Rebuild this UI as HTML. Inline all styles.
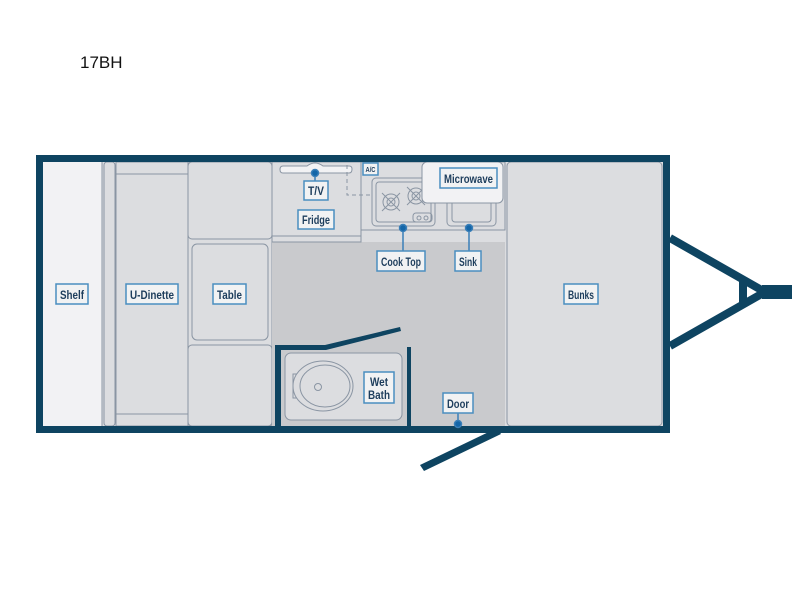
<!DOCTYPE html>
<html><head><style>
body{margin:0;width:800px;height:600px;background:#fff;overflow:hidden}
svg{display:block}
.l{font-family:"Liberation Sans",sans-serif;font-weight:bold;fill:#1d3d5c;font-size:12px;text-anchor:middle}
.b{fill:#f1f2f3;stroke:#4a8ec0;stroke-width:1.5}
.g{stroke:#8a95a3;stroke-width:1;fill:#dcdde0}
</style></head><body>
<svg width="800" height="600" viewBox="0 0 800 600">
<text x="80" y="68" font-family="Liberation Sans,sans-serif" font-size="17" fill="#111">17BH</text>
<rect x="40" y="158" width="627" height="272" fill="#dcdde0"/>
<rect x="43" y="162" width="59" height="264" fill="#f2f2f4"/>
<line x1="102" y1="162" x2="102" y2="426" stroke="#8a95a3"/>
<rect x="104" y="162" width="11" height="264" rx="3" class="g"/>
<rect x="116" y="162" width="156" height="264" class="g" fill="none"/>
<line x1="116" y1="174" x2="272" y2="174" stroke="#8a95a3"/>
<line x1="116" y1="414" x2="272" y2="414" stroke="#8a95a3"/>
<line x1="188" y1="162" x2="188" y2="426" stroke="#8a95a3"/>
<rect x="188" y="162" width="84" height="77" rx="4" class="g"/>
<rect x="192" y="244" width="76" height="96" rx="5" class="g"/>
<rect x="188" y="345" width="84" height="81" rx="4" class="g"/>
<rect x="272" y="242" width="233" height="184" fill="#c9cacd"/>
<rect x="272" y="162" width="89" height="80" fill="#dcdde0" stroke="#8a95a3"/>
<line x1="272" y1="236" x2="361" y2="236" stroke="#8a95a3"/>
<rect x="361" y="162" width="144" height="68" fill="#dcdde0" stroke="#8a95a3"/>
<path d="M283 166 H307 Q315 160 323 166 H349 Q352 166 352 169 Q352 173 349 173 H283 Q280 173 280 169.5 Q280 166 283 166Z" fill="#f2f2f4" stroke="#8a95a3"/>
<path d="M347 165 V195 H390" stroke="#8a95a3" stroke-dasharray="4,3" fill="none"/>
<rect x="372" y="178" width="63" height="48" rx="4" fill="#dcdde0" stroke="#8a95a3"/>
<rect x="376" y="182" width="55" height="40" rx="3" fill="none" stroke="#8a95a3"/>
<g stroke="#8a95a3" fill="none"><circle cx="391" cy="202" r="8"/><circle cx="391" cy="202" r="4"/><path d="M382 193l18 18M400 193l-18 18"/>
<circle cx="416" cy="196" r="8"/><circle cx="416" cy="196" r="4"/><path d="M407 187l18 18M425 187l-18 18"/>
<rect x="413" y="213" width="19" height="9" rx="3"/><circle cx="419" cy="218" r="2"/><circle cx="426" cy="218" r="2"/></g>
<rect x="447" y="178" width="49" height="48" rx="4" fill="#dcdde0" stroke="#8a95a3"/>
<rect x="452" y="182" width="39" height="40" rx="3" fill="none" stroke="#8a95a3"/>
<rect x="422" y="162" width="81" height="41" rx="5" fill="#f2f2f4" stroke="#8a95a3"/>
<rect x="507" y="162" width="155" height="264" rx="4" class="g"/>
<rect x="285" y="353" width="117" height="67" rx="6" class="g" fill="#e4e5e7"/>
<ellipse cx="323" cy="386" rx="30" ry="25" fill="none" stroke="#8a95a3"/>
<ellipse cx="325" cy="386" rx="25" ry="21" fill="none" stroke="#8a95a3"/>
<path d="M297 374 h-4 v24 h4" fill="none" stroke="#8a95a3"/>
<circle cx="318" cy="387" r="3.5" fill="none" stroke="#8a95a3"/>
<g fill="#0e4461">
<path d="M275 345 H325 L400 327 L401 331 L326 350 H281 V426 H275Z"/>
<rect x="407" y="347" width="4" height="79"/>
<path d="M420 465 L497 428 L501 434 L424 471Z"/>
</g>
<rect x="39.5" y="158.5" width="627" height="271" fill="none" stroke="#0e4461" stroke-width="7"/>
<g stroke="#0e4461" stroke-width="8" fill="none"><path d="M670 238 L765 292 L670 346"/><path d="M743 279 V305"/></g>
<rect x="762" y="285" width="30" height="14" fill="#0e4461"/>
<g stroke="#3a7fb8" stroke-width="1.5" fill="#1466a8">
<line x1="315" y1="173" x2="315" y2="181"/><circle cx="315" cy="173" r="3.5"/>
<line x1="403" y1="228" x2="403" y2="251"/><circle cx="403" cy="228" r="3.5"/>
<line x1="469" y1="228" x2="469" y2="251"/><circle cx="469" cy="228" r="3.5"/>
<line x1="458" y1="413" x2="458" y2="424"/><circle cx="458" cy="424" r="3.5"/>
</g>
<rect class="b" x="56" y="284" width="32" height="20"/><text class="l" x="72" y="299" textLength="24" lengthAdjust="spacingAndGlyphs">Shelf</text>
<rect class="b" x="126" y="284" width="52" height="20"/><text class="l" x="152" y="299" textLength="44" lengthAdjust="spacingAndGlyphs">U-Dinette</text>
<rect class="b" x="213" y="284" width="33" height="20"/><text class="l" x="229.5" y="299" textLength="25" lengthAdjust="spacingAndGlyphs">Table</text>
<rect class="b" x="564" y="284" width="34" height="20"/><text class="l" x="581" y="299" textLength="26" lengthAdjust="spacingAndGlyphs">Bunks</text>
<rect class="b" x="304" y="181" width="24" height="19"/><text class="l" x="316" y="195" textLength="16" lengthAdjust="spacingAndGlyphs">T/V</text>
<rect class="b" x="298" y="210" width="36" height="19"/><text class="l" x="316" y="224" textLength="28" lengthAdjust="spacingAndGlyphs">Fridge</text>
<rect class="b" x="363" y="163" width="15" height="12"/><text class="l" x="370.5" y="172" style="font-size:7px" textLength="10" lengthAdjust="spacingAndGlyphs">A/C</text>
<rect class="b" x="440" y="168" width="57" height="20"/><text class="l" x="468.5" y="183" textLength="49" lengthAdjust="spacingAndGlyphs">Microwave</text>
<rect class="b" x="377" y="251" width="48" height="20"/><text class="l" x="401" y="266" textLength="40" lengthAdjust="spacingAndGlyphs">Cook Top</text>
<rect class="b" x="455" y="251" width="26" height="20"/><text class="l" x="468" y="266" textLength="18" lengthAdjust="spacingAndGlyphs">Sink</text>
<rect class="b" x="364" y="372" width="30" height="31"/><text class="l" x="379" y="386" textLength="18" lengthAdjust="spacingAndGlyphs">Wet</text><text class="l" x="379" y="399" textLength="22" lengthAdjust="spacingAndGlyphs">Bath</text>
<rect class="b" x="443" y="393" width="30" height="20"/><text class="l" x="458" y="408" textLength="22" lengthAdjust="spacingAndGlyphs">Door</text>
</svg>
</body></html>
